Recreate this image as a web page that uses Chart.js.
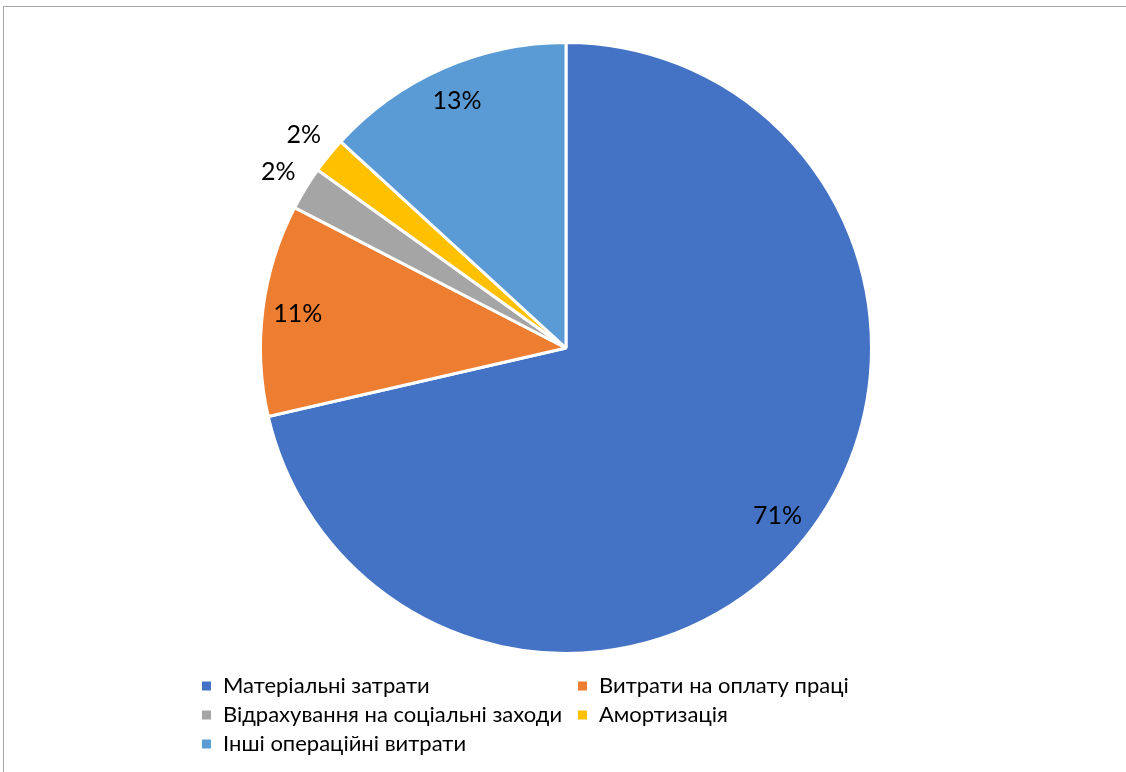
<!DOCTYPE html>
<html>
<head>
<meta charset="utf-8">
<script src="https://cdn.jsdelivr.net/npm/chart.js@4.4.1/dist/chart.umd.min.js"></script>
<style>
  html, body { margin: 0; padding: 0; background: #fff; overflow: hidden; }
  #frame {
    position: absolute; left: 3px; top: 6px;
    width: 1140px; height: 790px;
    border: 1px solid #a6a6a6;
  }
  #wrap { position: absolute; left: 0; top: 0; width: 1126px; height: 772px; }
</style>
</head>
<body>
<div id="frame"></div>
<div id="wrap"><canvas id="chart"></canvas></div>
<script>
// cost structure, % of total
const categories = [
  'Матеріальні затрати',
  'Витрати на оплату праці',
  'Відрахування на соціальні заходи',
  'Амортизація',
  'Інші операційні витрати',
];
const shares = [71.4, 11.2, 2.3, 1.9, 13.2];
const colors = ['#4472c4', '#ed7d31', '#a5a5a5', '#ffc000', '#5b9bd5'];

const font = 'Lato, "Open Sans", sans-serif';

// percent labels: inside the slice, small ones pushed outside
const sliceLabels = {
  id: 'sliceLabels',
  afterDatasetsDraw(chart) {
    const ctx = chart.ctx;
    const meta = chart.getDatasetMeta(0);
    const total = shares.reduce((a, b) => a + b, 0);
    ctx.save();
    ctx.font = '25px ' + font;
    ctx.fillStyle = '#000';
    ctx.textAlign = 'center';
    ctx.textBaseline = 'middle';
    meta.data.forEach((arc, i) => {
      const p = arc.getProps(['x', 'y', 'startAngle', 'endAngle', 'outerRadius'], true);
      const pct = shares[i] / total * 100;
      const mid = (p.startAngle + p.endAngle) / 2;
      const k = pct < 5 ? 1.105 : 0.885;
      const x = p.x + Math.cos(mid) * p.outerRadius * k;
      const y = p.y + Math.sin(mid) * p.outerRadius * k;
      ctx.fillText(Math.round(pct) + '%', x, y);
    });
    ctx.restore();
  }
};

// two-column legend under the pie
const gridLegend = {
  id: 'gridLegend',
  afterDraw(chart) {
    const ctx = chart.ctx;
    const colX = [202, 578];
    const rowY = [686, 715, 744];
    ctx.save();
    ctx.font = '22px ' + font;
    ctx.textBaseline = 'middle';
    categories.forEach((name, i) => {
      const x = colX[i % 2];
      const y = rowY[Math.floor(i / 2)];
      ctx.fillStyle = colors[i];
      ctx.fillRect(x, y - 4.5, 9, 9);
      ctx.fillStyle = '#000';
      ctx.fillText(name, x + 21, y);
    });
    ctx.restore();
  }
};

new Chart(document.getElementById('chart'), {
  type: 'pie',
  data: {
    labels: categories,
    datasets: [{
      data: shares,
      backgroundColor: colors,
      borderColor: '#fff',
      borderWidth: 3,
    }],
  },
  options: {
    responsive: true,
    maintainAspectRatio: false,
    animation: false,
    layout: { padding: { top: 41, left: 259, right: 253, bottom: 117 } },
    plugins: {
      legend: { display: false },
      tooltip: { enabled: false },
    },
  },
  plugins: [sliceLabels, gridLegend],
});
</script>
</body>
</html>
